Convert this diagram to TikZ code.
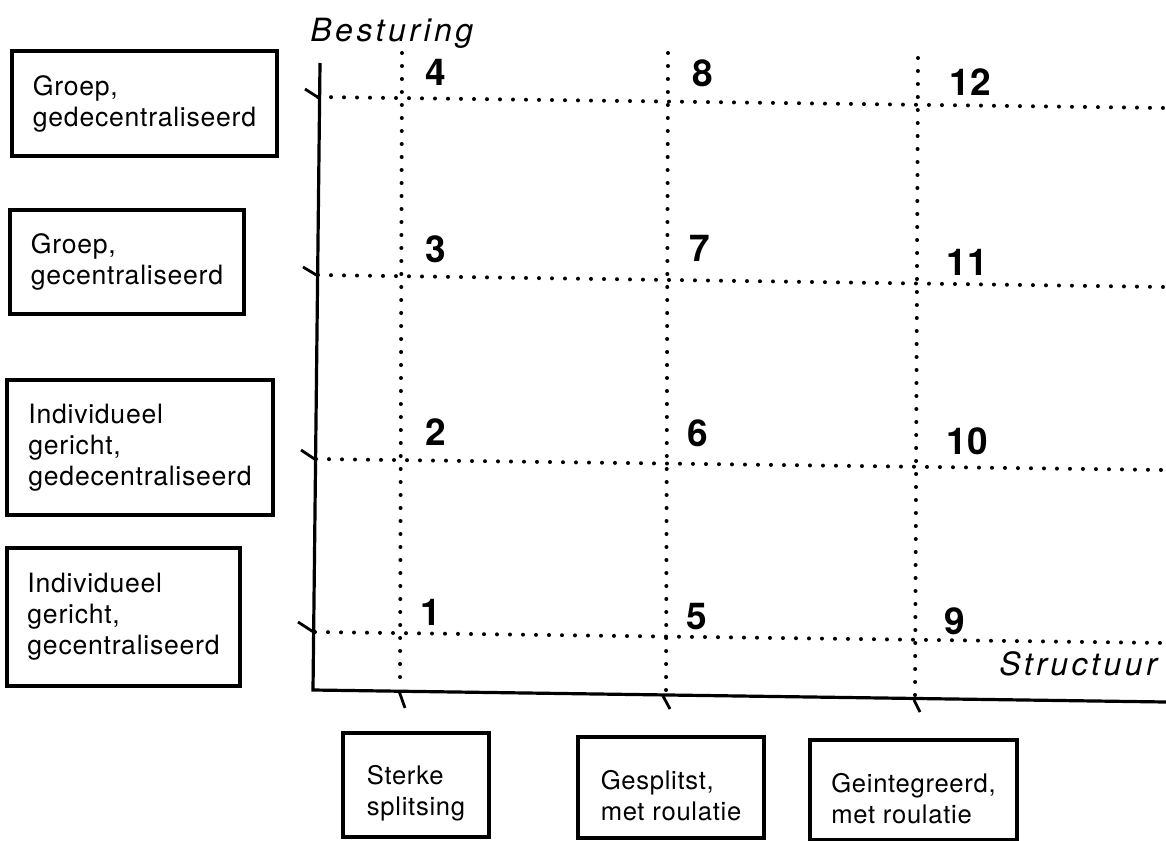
\documentclass[tikz,border=0pt]{standalone}
\usepackage{fontspec}
\setmainfont{TeX Gyre Heros}
\newfontfamily\boxfont[LetterSpace=2.8]{TeX Gyre Heros}
\newfontfamily\axisfont[LetterSpace=11]{TeX Gyre Heros}
\newcommand{\lowtext}{\rule{0pt}{18pt}}
\begin{document}
\begin{tikzpicture}[x=0.5pt,y=-0.5pt,
  frame/.style={draw, line width=1.6pt, rectangle, align=left, inner sep=0pt,
    font=\boxfont\fontsize{12.8}{15.5}\selectfont},
  sideframe/.style={frame, font=\boxfont\fontsize{13.3}{15.5}\selectfont},
  axis/.style={line width=1.6pt},
  tickmark/.style={line width=1.4pt},
  gridline/.style={line width=2pt, line cap=round, dash pattern=on 0pt off 6.5pt},
  cell/.style={font=\bfseries\fontsize{18.5}{18.5}\selectfont, inner sep=0pt},
  axislabel/.style={font=\axisfont\itshape\fontsize{16}{16}\selectfont, inner sep=0pt}
]
\useasboundingbox (0,0) rectangle (1166,840);
\clip (0,0) rectangle (1166,840);

% axes
\coordinate (ytop) at (320,63);
\coordinate (origin) at (313,690);
\coordinate (xend) at (1166,702);
\draw[axis] (ytop) -- (origin) -- (xend);

% horizontal grid rows (Besturing levels)
\coordinate (r4a) at (318,97);  \coordinate (r4b) at (1166,108);
\coordinate (r3a) at (318,275); \coordinate (r3b) at (1166,287);
\coordinate (r2a) at (316,459); \coordinate (r2b) at (1166,470);
\coordinate (r1a) at (315,632); \coordinate (r1b) at (1166,643);
\foreach \r in {1,2,3,4} \draw[gridline] (r\r a) -- (r\r b);

% vertical grid columns (Structuur levels)
\coordinate (c1a) at (402,53); \coordinate (c1b) at (400,688);
\coordinate (c2a) at (668,53); \coordinate (c2b) at (666,694);
\coordinate (c3a) at (918,58); \coordinate (c3b) at (915,698);
\foreach \c in {1,2,3} \draw[gridline] (c\c a) -- (c\c b);

% tick marks on the vertical axis
\coordinate (t4a) at (305,89); \coordinate (t4b) at (319,98);
\coordinate (t3a) at (303,267); \coordinate (t3b) at (318,276);
\coordinate (t2a) at (301,450); \coordinate (t2b) at (316,460);
\coordinate (t1a) at (298,622); \coordinate (t1b) at (315,633);
\foreach \t in {1,2,3,4} \draw[tickmark] (t\t a) -- (t\t b);

% tick marks on the horizontal axis
\coordinate (u1a) at (399,691); \coordinate (u1b) at (405,708);
\coordinate (u2a) at (663,696); \coordinate (u2b) at (670,709);
\coordinate (u3a) at (914,700); \coordinate (u3b) at (920,712);
\foreach \u in {1,2,3} \draw[tickmark] (u\u a) -- (u\u b);

% axis titles
\node[axislabel, anchor=base west] (besturing) at (310,42) {Besturing};
\node[axislabel, anchor=base west] (structuur) at (999,675) {Structuur};

% cell numbers
\node[cell] (n4)  at (436,72)  {4};
\node[cell] (n8)  at (703,73)  {8};
\node[cell] (n12) at (970,82)  {12};
\node[cell] (n3)  at (436,249) {3};
\node[cell] (n7)  at (700,248) {7};
\node[cell] (n11) at (967,262) {11};
\node[cell] (n2)  at (436,432) {2};
\node[cell] (n6)  at (698,433) {6};
\node[cell] (n10) at (967,441) {10};
\node[cell] (n1)  at (431,612) {1};
\node[cell] (n5)  at (697,617) {5};
\node[cell] (n9)  at (955,621) {9};

% Besturing categories
\node[sideframe, minimum width=132.5pt, minimum height=52.5pt] (b4) at (144.5,103.5)
  {Groep,\\gedecentraliseerd};
\node[sideframe, minimum width=117pt, minimum height=52pt] (b3) at (127,262)
  {Groep,\\gecentraliseerd};
\node[sideframe, minimum width=133pt, minimum height=67.5pt] (b2) at (140,447.5)
  {Individueel\\gericht,\\gedecentraliseerd};
\node[sideframe, minimum width=116.5pt, minimum height=69pt] (b1) at (123.5,617)
  {Individueel\\gericht,\\gecentraliseerd};

% Structuur categories
\node[frame, minimum width=73pt, minimum height=52pt] (s1) at (416,785)
  {\lowtext Sterke\\splitsing};
\node[frame, minimum width=93pt, minimum height=50.5pt] (s2) at (671,787.5)
  {\lowtext Gesplitst,\\met roulatie};
\node[frame, minimum width=103.5pt, minimum height=50pt] (s3) at (913.5,790)
  {\lowtext Geintegreerd,\\met roulatie};
\end{tikzpicture}
\end{document}
